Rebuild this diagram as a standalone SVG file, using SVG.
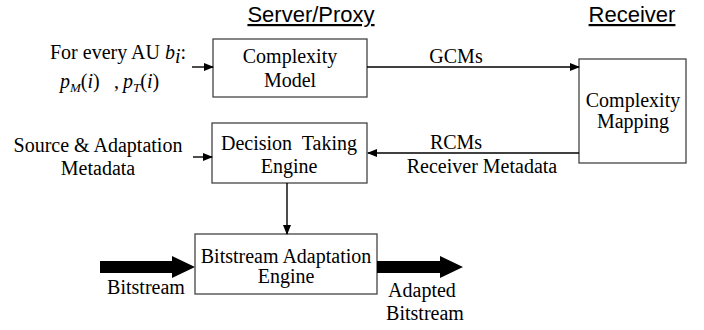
<svg xmlns="http://www.w3.org/2000/svg" width="704" height="330" viewBox="0 0 704 330">
<style>
.box{fill:#fff;stroke:#444;stroke-width:1.3}
.t{font-family:"Liberation Serif","Times New Roman",serif;font-size:20px;fill:#000}
.m{font-family:"Liberation Serif","Times New Roman",serif;font-style:italic;font-size:20px;fill:#000}
.h{font-family:"Liberation Sans",Arial,sans-serif;font-size:22px;fill:#000;text-decoration:underline}
.ln{stroke:#000;stroke-width:1.4;fill:none}
</style>
<defs>
<marker id="ah" markerWidth="10" markerHeight="8" refX="9" refY="4" orient="auto" markerUnits="userSpaceOnUse">
<path d="M0,0 L10,4 L0,8 Z" fill="#000"/>
</marker>
</defs>
<g id="headers">
<text class="h" x="311" y="22" text-anchor="middle">Server/Proxy</text>
<text class="h" x="632" y="22" text-anchor="middle">Receiver</text>
</g>
<g id="input-au">
<text class="t" x="50" y="59">For every AU <tspan class="m">b</tspan><tspan class="m" font-size="13" dy="4">i</tspan><tspan dy="-4">:</tspan></text>
<text class="m" x="60" y="88">p<tspan font-size="13" dy="4">M</tspan><tspan dy="-4" font-style="normal">(</tspan>i<tspan font-style="normal">)</tspan><tspan font-style="normal" x="114">,</tspan><tspan x="123">p</tspan><tspan font-size="13" dy="4">T</tspan><tspan dy="-4" font-style="normal">(</tspan>i<tspan font-style="normal">)</tspan></text>
</g>
<g id="input-source">
<text class="t" x="98" y="152" text-anchor="middle">Source &amp; Adaptation</text>
<text class="t" x="98" y="175" text-anchor="middle">Metadata</text>
</g>
<g id="complexity-model">
<rect class="box" x="213" y="39" width="154" height="58"/>
<text class="t" x="290" y="63" text-anchor="middle">Complexity</text>
<text class="t" x="290" y="87" text-anchor="middle">Model</text>
</g>
<g id="complexity-mapping">
<rect class="box" x="579" y="59" width="107" height="104"/>
<text class="t" x="633" y="107" text-anchor="middle">Complexity</text>
<text class="t" x="633" y="128" text-anchor="middle">Mapping</text>
</g>
<g id="decision-engine">
<rect class="box" x="212" y="123" width="155" height="60"/>
<text class="t" x="289" y="150" text-anchor="middle" xml:space="preserve">Decision  Taking</text>
<text class="t" x="289" y="173" text-anchor="middle">Engine</text>
</g>
<g id="adaptation-engine">
<rect class="box" x="195" y="234" width="182" height="60"/>
<text class="t" x="286" y="263" text-anchor="middle">Bitstream Adaptation</text>
<text class="t" x="286" y="283" text-anchor="middle">Engine</text>
</g>
<g id="connectors">
<line class="ln" x1="192" y1="67" x2="213" y2="67" marker-end="url(#ah)"/>
<line class="ln" x1="193" y1="157" x2="212" y2="157" marker-end="url(#ah)"/>
<line class="ln" x1="367" y1="67" x2="579" y2="67" marker-end="url(#ah)"/>
<line class="ln" x1="579" y1="153" x2="368" y2="153" marker-end="url(#ah)"/>
<line class="ln" x1="287" y1="183" x2="287" y2="234" marker-end="url(#ah)"/>
<path d="M100,261 H172 V256 L195,267 L172,278 V273 H100 Z" fill="#000"/>
<path d="M377,261 H440 V256 L463,267 L440,278 V273 H377 Z" fill="#000"/>
</g>
<g id="labels">
<text class="t" x="456" y="63" text-anchor="middle">GCMs</text>
<text class="t" x="456" y="149" text-anchor="middle">RCMs</text>
<text class="t" x="482" y="173" text-anchor="middle">Receiver Metadata</text>
<text class="t" x="146" y="294" text-anchor="middle">Bitstream</text>
<text class="t" x="422" y="297" text-anchor="middle">Adapted</text>
<text class="t" x="425" y="320" text-anchor="middle">Bitstream</text>
</g>
</svg>
